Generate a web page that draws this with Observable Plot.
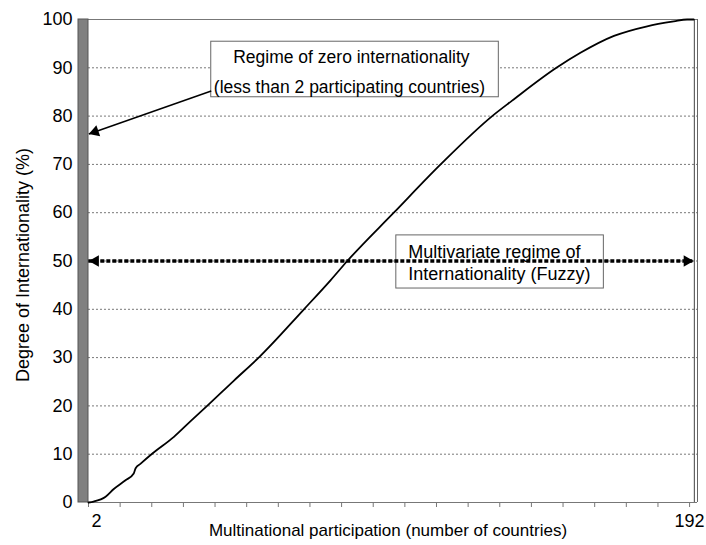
<!DOCTYPE html>
<html><head><meta charset="utf-8">
<script src="https://cdn.jsdelivr.net/npm/d3@7"></script>
<script src="https://cdn.jsdelivr.net/npm/@observablehq/plot@0.6"></script>
<style>
html,body{margin:0;padding:0;background:#fff;}
#chart svg{display:block;}
</style></head><body><div id="chart"></div>
<script>
// Curve: degree of internationality vs. number of participating countries
const countries = [2, 3.6, 7.4, 10.0, 13.7, 16.3, 16.9, 18.4, 22.1, 29.0, 34.2, 39.5, 47.9, 55.8, 70.1, 78.5, 83.8, 98.5, 113.3, 129.6, 135.9, 149.9, 157.5, 168.1, 178.6, 187.0, 191.2, 193.3];
const degree    = [0, 0.2, 1.2, 2.8, 4.6, 6.0, 7.1, 8.0, 10.1, 13.6, 16.8, 20, 25.2, 30, 40, 46.0, 50, 60, 70, 80, 83.2, 90, 93.1, 96.6, 98.6, 99.6, 100, 100];

// Axes
const xTicks = [2, 12, 22, 32, 42, 52, 62, 72, 82, 92, 102, 112, 122, 132, 142, 152, 162, 172, 182, 192];
const xTickLabels = {2: "2", 192: "192"};
const yTicks = [0, 10, 20, 30, 40, 50, 60, 70, 80, 90, 100];
const gridValues = [10, 20, 30, 40, 50, 60, 70, 80, 90];
const xTitle = "Multinational participation (number of countries)";
const yTitle = "Degree of Internationality (%)";

// Zero-internationality band (fewer than 2 countries)
const zeroBand = [{x1: -1.16, x2: 2, y1: 0, y2: 100}];
const lastCountry = 193.5;
const xMax = 194.5;

// Annotations
const box1 = [{x1: 40.8, x2: 131.7, y1: 83.9, y2: 95.4}];
const box1Lines = [
  {x: 85.1, y: 91.0, text: "Regime of zero internationality"},
  {x: 84.5, y: 84.8, text: "(less than 2 participating countries)"}
];
const arrow1 = [{x1: 40.8, y1: 85.2, x2: 2.1, y2: 76.3}];
const box2 = [{x1: 99.3, x2: 164.9, y1: 44.3, y2: 55.3}];
const box2Lines = [
  {x: 103.1, y: 50.7, text: "Multivariate regime of"},
  {x: 103.1, y: 46.0, text: "Internationality (Fuzzy)"}
];
const fuzzyArrow = [{x1: 2.1, x2: 193.3, y: 50}];

const curveData = countries.map((c, i) => ({x: c, y: degree[i]}));

const chart = Plot.plot({
  width: 706,
  height: 545,
  marginLeft: 78,
  marginRight: 9,
  marginTop: 19,
  marginBottom: 43,
  style: {fontFamily: "'Liberation Sans', Arial, sans-serif", fontSize: "18px", color: "#000", background: "#fff"},
  x: {domain: [-1.16, xMax]},
  y: {domain: [0, 100]},
  marks: [
    // dotted grid
    Plot.ruleY(gridValues, {x1: 2, x2: xMax, stroke: "#777", strokeWidth: 1, strokeDasharray: "2,2"}),
    // frame top, right, bottom axis line
    Plot.ruleY([100], {x1: 2, x2: xMax, stroke: "#777", strokeWidth: 1}),
    Plot.ruleY([0], {x1: 2, x2: xMax, stroke: "#777", strokeWidth: 1}),
    Plot.ruleX([xMax], {y1: 0, y2: 100, stroke: "#666", strokeWidth: 1}),
    Plot.ruleX([lastCountry], {y1: 0, y2: 100, stroke: "#444", strokeWidth: 1}),
    // zero internationality band
    Plot.rect(zeroBand, {x1: "x1", x2: "x2", y1: "y1", y2: "y2", fill: "#808080", stroke: "#555", strokeWidth: 1}),
    // x axis ticks and labels
    Plot.axisX({ticks: xTicks, tickSize: 5, tickFormat: () => "", stroke: "#777", label: null}),
    Plot.axisX({ticks: [2], tickSize: 0, tickPadding: 12, dx: 8, tickFormat: d => xTickLabels[d], label: null, fontSize: 18}),
    Plot.axisX({ticks: [192], tickSize: 0, tickPadding: 12, tickFormat: d => xTickLabels[d], label: null, fontSize: 18}),
    // y axis labels
    Plot.axisY({ticks: yTicks, tickSize: 0, tickPadding: 6, label: null, fontSize: 18}),
    // titles
    Plot.text([xTitle], {frameAnchor: "bottom", lineAnchor: "bottom", dy: 33, fontSize: 17}),
    Plot.text([yTitle], {frameAnchor: "left", textAnchor: "middle", rotate: -90, lineAnchor: "bottom", dx: -50, dy: 4, fontSize: 18}),
    // S-curve
    Plot.line(curveData, {x: "x", y: "y", stroke: "#000", strokeWidth: 1.8, curve: "monotone-x"}),
    // box 1 + arrow
    Plot.rect(box1, {x1: "x1", x2: "x2", y1: "y1", y2: "y2", fill: "#fff", stroke: "#666", strokeWidth: 1}),
    Plot.text(box1Lines, {x: "x", y: "y", text: "text", lineAnchor: "bottom", fontSize: 17.5}),
    Plot.link(arrow1, {x1: "x1", y1: "y1", x2: "x2", y2: "y2", stroke: "#000", strokeWidth: 1.5}),
    Plot.dot(arrow1, {x: "x2", y: "y2", symbol: "triangle", r: 4.3, fill: "#000", stroke: null, rotate: -109.2, dx: 6.3, dy: -2.2}),
    // box 2 + fuzzy double arrow
    Plot.rect(box2, {x1: "x1", x2: "x2", y1: "y1", y2: "y2", fill: "#fff", stroke: "#666", strokeWidth: 1}),
    Plot.text(box2Lines, {x: "x", y: "y", text: "text", textAnchor: "start", lineAnchor: "bottom", fontSize: 18}),
    Plot.ruleY(fuzzyArrow, {y: "y", x1: "x1", x2: "x2", stroke: "#000", strokeWidth: 3.5, strokeDasharray: "4,2"}),
    Plot.dot(fuzzyArrow, {x: "x1", y: "y", symbol: "triangle", r: 4.3, fill: "#000", stroke: null, rotate: -90, dx: 6.7}),
    Plot.dot(fuzzyArrow, {x: "x2", y: "y", symbol: "triangle", r: 4.3, fill: "#000", stroke: null, rotate: 90, dx: -6.7})
  ]
});
document.getElementById("chart").appendChild(chart);
</script>
</body></html>
